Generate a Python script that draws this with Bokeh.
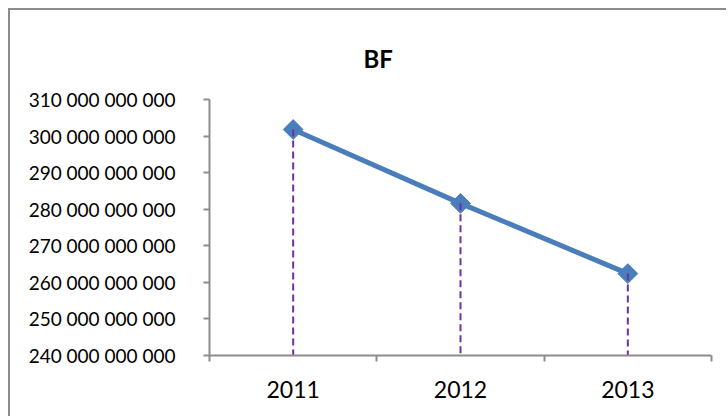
import numpy as np
from bokeh.plotting import figure
from bokeh.models import Range1d, FixedTicker, ColumnDataSource, CustomJSTickFormatter
from bokeh.embed import file_html
from bokeh.resources import INLINE

title_text = "BF"
years = ["2011", "2012", "2013"]
values = [301.8e9, 281.6e9, 262.4e9]
y_min = 240e9
y_max = 310e9
y_step = 10e9

FONT = "Lato"
AXIS_COLOR = "#8c8c8c"

x = np.arange(len(years)) + 0.5
src = ColumnDataSource(dict(x=x, y=values, base=[y_min] * len(values)))

p = figure(width=718, height=408, output_backend="svg", toolbar_location=None,
           x_range=Range1d(0, len(years)), y_range=Range1d(y_min, y_max),
           min_border_left=199, min_border_right=17, min_border_top=89, min_border_bottom=63,
           title=title_text)
p.styles = {"border-left": "2px solid #8c8c8c", "border-top": "2px solid #8c8c8c",
            "margin-left": "8px", "margin-top": "8px"}
p.outline_line_color = None
p.xgrid.grid_line_color = None
p.ygrid.grid_line_color = None
p.background_fill_color = "white"
p.border_fill_color = "white"

p.title.align = "left"
p.title.offset = 154
p.title.standoff = 53
p.title.text_font = FONT
p.title.text_font_style = "bold"
p.title.text_font_size = "24px"
p.title.text_color = "black"

p.line("x", "y", source=src, line_color="#4A7EBB", line_width=5)
p.scatter("x", "y", source=src, marker="square", size=14, angle=np.pi / 4,
          fill_color="#4A7EBB", line_color="#4A7EBB")
p.segment(x0="x", y0="y", x1="x", y1="base", source=src, line_color="#7030A0",
          line_width=2, line_dash="7 4")

yticks = list(np.arange(y_min, y_max + y_step / 2, y_step))
p.yaxis.ticker = FixedTicker(ticks=yticks)
p.yaxis.formatter = CustomJSTickFormatter(code="return Math.round(tick).toLocaleString('en-US').replace(/,/g, ' ');")
p.yaxis.axis_line_color = AXIS_COLOR
p.yaxis.axis_line_width = 2
p.yaxis.major_tick_line_color = AXIS_COLOR
p.yaxis.major_tick_line_width = 2
p.yaxis.major_tick_out = 6
p.yaxis.major_tick_in = 0
p.yaxis.minor_tick_line_color = None
p.yaxis.major_label_standoff = 28
p.yaxis.major_label_text_font = FONT
p.yaxis.major_label_text_font_size = "19px"
p.yaxis.major_label_text_color = "black"

p.xaxis.ticker = FixedTicker(ticks=list(x), minor_ticks=list(range(len(years) + 1)))
p.xaxis.formatter = CustomJSTickFormatter(args=dict(years=years), code="return years[Math.floor(tick)];")
p.xaxis.axis_line_color = AXIS_COLOR
p.xaxis.axis_line_width = 2
p.xaxis.major_tick_line_color = None
p.xaxis.minor_tick_line_color = AXIS_COLOR
p.xaxis.minor_tick_line_width = 2
p.xaxis.minor_tick_out = 6
p.xaxis.minor_tick_in = 0
p.xaxis.major_tick_out = 6
p.xaxis.major_label_standoff = 19
p.xaxis.major_label_text_font = FONT
p.xaxis.major_label_text_font_size = "23px"
p.xaxis.major_label_text_color = "black"

open("out.html", "w").write(file_html(p, INLINE))
